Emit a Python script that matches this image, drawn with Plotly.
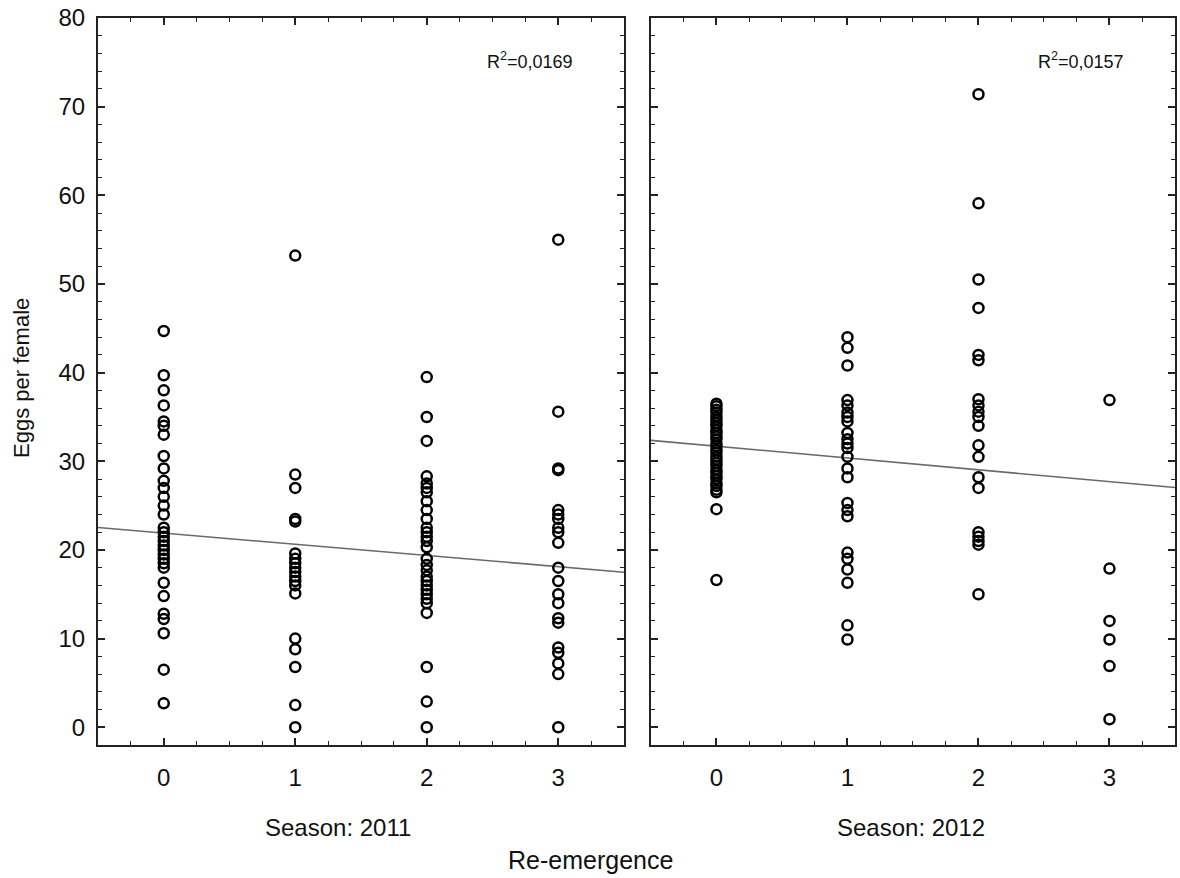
import numpy as np
import plotly.graph_objects as go

# ---- data ----
reemergence = [0, 1, 2, 3]
seasons = ["2011", "2012"]

eggs_2011_g0 = [44.7, 39.7, 38.0, 36.3, 34.5, 34.0, 33.0, 30.6, 29.2, 27.8, 27.0, 26.0, 25.0, 24.0,
                22.5, 22.0, 21.5, 21.0, 20.5, 20.0, 19.5, 19.0, 18.5, 18.0, 16.3, 14.8, 12.8, 12.2,
                10.6, 6.5, 2.7]
eggs_2011_g1 = [53.2, 28.5, 27.0, 23.5, 23.2, 19.6, 19.0, 18.5, 18.0, 17.5, 17.0, 16.5, 16.0, 15.1,
                10.0, 8.8, 6.8, 2.5, 0.0]
eggs_2011_g2 = [39.5, 35.0, 32.3, 28.3, 27.5, 27.0, 26.5, 25.5, 24.5, 23.5, 22.5, 22.0, 21.5, 21.0,
                20.3, 19.0, 18.3, 17.7, 17.0, 16.5, 16.0, 15.5, 15.0, 14.5, 14.0, 12.9, 6.8, 2.9, 0.0]
eggs_2011_g3 = [55.0, 35.6, 29.2, 29.0, 24.5, 24.0, 23.5, 22.5, 22.0, 20.8, 18.0, 16.5, 15.0, 14.0,
                12.3, 11.8, 9.0, 8.4, 7.2, 6.0, 0.0]

eggs_2012_g0 = [36.5, 36.2, 35.8, 35.5, 35.0, 34.7, 34.3, 34.0, 33.5, 33.2, 32.8, 32.5, 32.0, 31.7,
                31.3, 31.0, 30.5, 30.2, 29.8, 29.5, 29.0, 28.7, 28.3, 28.0, 27.5, 27.2, 26.8, 26.5,
                24.6, 16.6]
eggs_2012_g1 = [44.0, 42.8, 40.8, 36.9, 36.3, 35.5, 35.0, 34.5, 33.2, 32.5, 32.0, 31.5, 30.5, 29.2,
                28.2, 25.3, 24.5, 23.8, 19.7, 19.0, 17.8, 16.3, 11.5, 9.9]
eggs_2012_g2 = [71.4, 59.1, 50.5, 47.3, 42.0, 41.4, 37.0, 36.3, 35.6, 35.0, 34.0, 31.8, 30.5, 28.2,
                27.0, 22.0, 21.5, 21.0, 20.6, 15.0]
eggs_2012_g3 = [36.9, 17.9, 12.0, 9.9, 6.9, 0.9]

# regression fits (intercept, slope) and R^2 labels
fit_2011 = (21.9, -1.26)
fit_2012 = (31.7, -1.33)
r2_labels = ["R<sup>2</sup>=0,0169", "R<sup>2</sup>=0,0157"]

groups_2011 = [eggs_2011_g0, eggs_2011_g1, eggs_2011_g2, eggs_2011_g3]
groups_2012 = [eggs_2012_g0, eggs_2012_g1, eggs_2012_g2, eggs_2012_g3]

FONT = "Liberation Sans, Arial, sans-serif"
X_RANGE = [-0.5, 3.5]
Y_RANGE = [-2, 80]

fig = go.Figure()

def add_panel(groups, fit, xa, ya):
    xs, ys = [], []
    for g, vals in zip(reemergence, groups):
        xs += [g] * len(vals)
        ys += vals
    lx = np.array(X_RANGE, dtype=float)
    ly = fit[0] + fit[1] * lx
    fig.add_trace(go.Scatter(x=lx, y=ly, mode="lines", xaxis=xa, yaxis=ya,
                             line=dict(color="#6a6a6a", width=1.6), showlegend=False,
                             hoverinfo="skip"))
    fig.add_trace(go.Scatter(x=xs, y=ys, mode="markers", xaxis=xa, yaxis=ya,
                             marker=dict(symbol="circle-open", size=10, color="black",
                                         line=dict(width=2.5, color="black")),
                             showlegend=False))

add_panel(groups_2011, fit_2011, "x", "y")
add_panel(groups_2012, fit_2012, "x2", "y2")

axis_common = dict(showline=True, linecolor="#222", linewidth=2, mirror="ticks",
                   ticks="inside", tickcolor="#222", tickwidth=1.5, showgrid=False,
                   zeroline=False, tickfont=dict(family=FONT, size=24, color="#111"))

x_common = dict(axis_common, range=X_RANGE, tickmode="array", tickvals=reemergence,
                ticktext=[str(v) for v in reemergence], ticklen=7, ticklabelstandoff=10,
                minor=dict(ticks="inside", dtick=0.25, tick0=0, ticklen=4, tickcolor="#222",
                           tickwidth=1.2, showgrid=False))
y_common = dict(axis_common, range=Y_RANGE, tick0=0, dtick=10, ticklen=7,
                minor=dict(ticks="inside", dtick=2, tick0=0, ticklen=4, tickcolor="#222",
                           tickwidth=1.2, showgrid=False))

fig.update_layout(
    width=1180, height=878,
    margin=dict(l=98, r=3, t=18, b=133),
    paper_bgcolor="white", plot_bgcolor="white",
    xaxis=dict(x_common, domain=[0, 0.4884], anchor="y"),
    xaxis2=dict(x_common, domain=[0.5134, 1], anchor="y2"),
    yaxis=dict(y_common, anchor="x", ticklabelstandoff=6),
    yaxis2=dict(y_common, anchor="x2", showticklabels=False, matches="y"),
    font=dict(family=FONT, color="#111"),
)

annotations = [
    dict(text=r2_labels[0], x=0.4013, y=0.942, xref="paper", yref="paper", showarrow=False,
         font=dict(family=FONT, size=18, color="#111"), xanchor="center", yanchor="middle"),
    dict(text=r2_labels[1], x=0.913, y=0.942, xref="paper", yref="paper", showarrow=False,
         font=dict(family=FONT, size=18, color="#111"), xanchor="center", yanchor="middle"),
    dict(text="Season: " + seasons[0], x=0.2224, y=-0.113, xref="paper", yref="paper",
         showarrow=False, font=dict(family=FONT, size=24, color="#111"),
         xanchor="center", yanchor="middle"),
    dict(text="Season: " + seasons[1], x=0.7553, y=-0.113, xref="paper", yref="paper",
         showarrow=False, font=dict(family=FONT, size=24, color="#111"),
         xanchor="center", yanchor="middle"),
    dict(text="Re-emergence", x=0.457, y=-0.158, xref="paper", yref="paper",
         showarrow=False, font=dict(family=FONT, size=25, color="#111"),
         xanchor="center", yanchor="middle"),
    dict(text="Eggs per female", x=-0.0705, y=0.505, xref="paper", yref="paper",
         showarrow=False, textangle=-90, font=dict(family=FONT, size=22, color="#111"),
         xanchor="center", yanchor="middle"),
]
fig.update_layout(annotations=annotations)

fig.write_html("out.html")
